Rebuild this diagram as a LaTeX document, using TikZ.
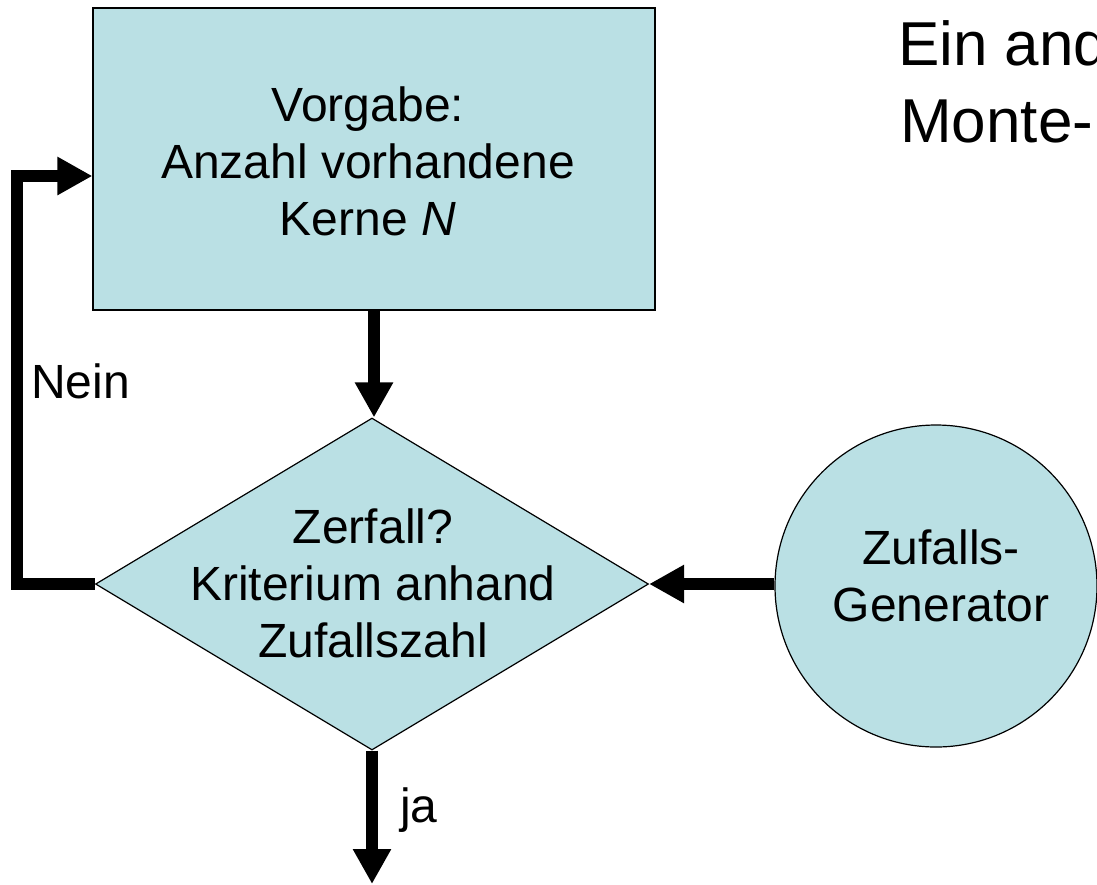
\documentclass[tikz,border=0pt]{standalone}
\usepackage{fontspec}
\setmainfont{Liberation Sans}
\usepackage{tikz}
\usetikzlibrary{arrows.meta, shapes.geometric}
\definecolor{boxblue}{RGB}{186,224,228}
\newcommand{\flowfont}{\fontsize{48}{57}\selectfont}

\begin{document}
\begin{tikzpicture}[x=1pt, y=-1pt,
    box/.style={draw, line width=1.2pt, fill=boxblue, inner sep=0pt},
    txt/.style={font=\flowfont, align=center, inner sep=0pt},
    lbl/.style={font=\flowfont, anchor=base west, inner sep=0pt},
    flow/.style={line width=11.5pt, -{Triangle[length=35pt, width=36pt]}}]
  \useasboundingbox (0,0) rectangle (1097,884);

  % Start value
  \node[box, minimum width=562pt, minimum height=302pt] (vorgabe) at (374,159) {};
  \node[txt] (vorgabetxt) at (368,161) {Vorgabe:\\Anzahl vorhandene\\Kerne \textit{N}};

  % Decision
  \node[box, diamond, minimum width=553pt, minimum height=332pt] (zerfall) at (372,584) {};
  \node[txt] (zerfalltxt) at (373,583) {Zerfall?\\Kriterium anhand\\Zufallszahl};

  % Random generator
  \node[box, circle, minimum size=322pt] (gen) at (936,586) {};
  \node[txt] (gentxt) at (941,576) {Zufalls-\\Generator};

  % Heading (runs off the right edge)
  \node[lbl, font=\fontsize{62}{77}\selectfont] (head1) at (898,65) {Ein and};
  \node[lbl, font=\fontsize{62}{77}\selectfont] (head2) at (900,142) {Monte-};

  % Arrows
  \coordinate (loop) at (17,176);
  \coordinate (out) at (372,884);
  \draw[flow] (vorgabe.south) -- (vorgabe.south |- zerfall.north);
  \draw[flow] (gen.west |- zerfall.east) -- (zerfall.east);
  \draw[flow] (zerfall.west) -| (loop) -- (loop -| vorgabe.west);
  \draw[flow] (zerfall.south) -- (out);

  \node[lbl] (nein) at (31,398) {Nein};
  \node[lbl] (ja) at (400,822) {ja};
\end{tikzpicture}
\end{document}
